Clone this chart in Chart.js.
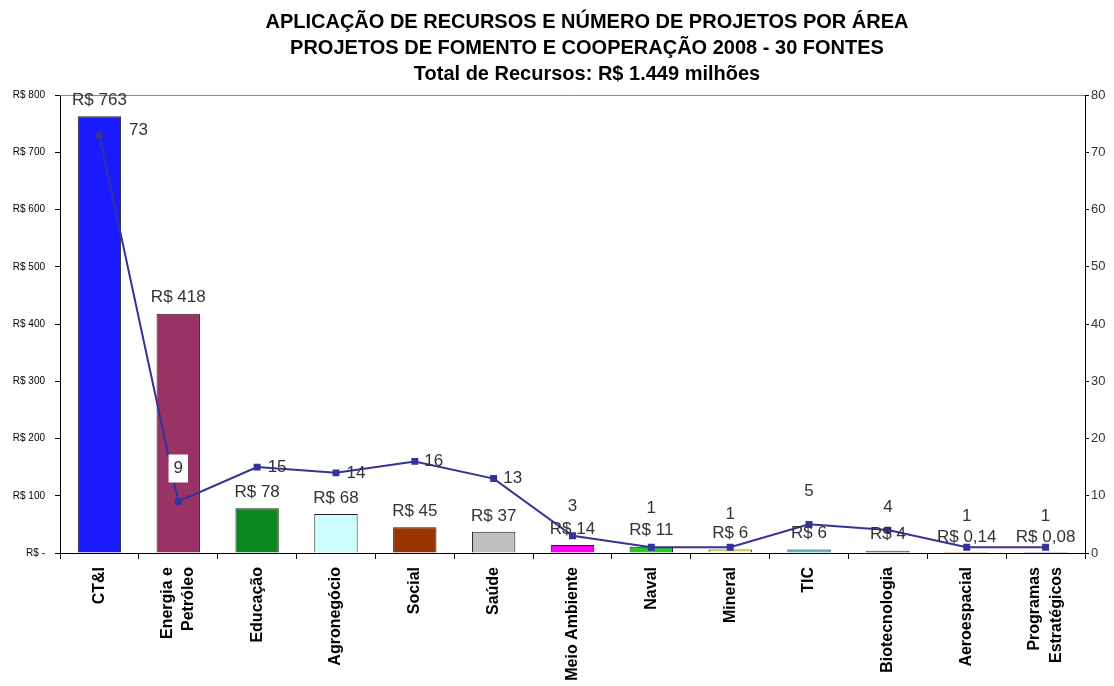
<!DOCTYPE html>
<html>
<head>
<meta charset="utf-8">
<script src="https://cdn.jsdelivr.net/npm/chart.js@4"></script>
<style>
  html, body { margin: 0; padding: 0; background: #fff; }
  #wrap { width: 1114px; height: 686px; }
</style>
</head>
<body>
<div id="wrap"><canvas id="chart" width="1114" height="686"></canvas></div>
<script>
const areas = ['CT&I', ['Energia e', 'Petróleo'], 'Educação', 'Agronegócio', 'Social', 'Saúde',
    'Meio Ambiente', 'Naval', 'Mineral', 'TIC', 'Biotecnologia', 'Aeroespacial', ['Programas', 'Estratégicos']];
const recursos = [763, 418, 78, 68, 45, 37, 14, 11, 6, 6, 4, 0.14, 0.08];
const projetos = [73, 9, 15, 14, 16, 13, 3, 1, 1, 5, 4, 1, 1];
const titleLines = [
    'APLICAÇÃO DE RECURSOS E NÚMERO DE PROJETOS POR ÁREA',
    'PROJETOS DE FOMENTO E COOPERAÇÃO 2008 - 30 FONTES',
    'Total de Recursos: R$ 1.449 milhões'
];

const barColors = ['#1a1aff', '#993366', '#0a8a1e', '#ccffff', '#993300', '#c0c0c0',
    '#ff00ff', '#22cc22', '#ffff66', '#33cccc', '#996633', '#ff9900', '#666699'];

// label offsets for the project counts (relative to the point)
const lineLabelOffsets = [[39, -5], [0, -33], [20, 0], [20, 0], [19, 0], [19, 0],
    [0, -30], [0, -39], [0, -33], [0, -33], [0, -23], [0, -31], [0, -31]];

const fmtReais = v => 'R$ ' + String(v).replace('.', ',');
const FONT = '"Liberation Sans", Arial, sans-serif';

// center two-line rotated category labels on their tick
const centerLabels = {
    id: 'centerLabels',
    beforeDraw(chart) {
        const scale = chart.scales.x;
        scale.getLabelItems(chart.chartArea).forEach(item => {
            if (Array.isArray(item.label) && !item._centered) {
                item.textOffset -= (item.label.length - 1) * item.font.lineHeight / 2;
                item._centered = true;
            }
        });
    }
};

const labelPlugin = {
    id: 'labels',
    afterDatasetsDraw(chart) {
        const ctx = chart.ctx;
        const area = chart.chartArea;
        ctx.save();
        // top frame line
        ctx.strokeStyle = '#888';
        ctx.lineWidth = 1;
        ctx.beginPath();
        ctx.moveTo(area.left, area.top + 0.5);
        ctx.lineTo(area.right, area.top + 0.5);
        ctx.stroke();

        ctx.font = '17px ' + FONT;
        ctx.textAlign = 'center';
        ctx.textBaseline = 'middle';
        ctx.fillStyle = '#333';
        chart.getDatasetMeta(0).data.forEach((bar, i) => {
            ctx.fillText(fmtReais(recursos[i]), bar.x, bar.y - 16);
        });
        chart.getDatasetMeta(1).data.forEach((pt, i) => {
            const [dx, dy] = lineLabelOffsets[i];
            const x = pt.x + dx, y = pt.y + dy;
            const txt = String(projetos[i]);
            if (i === 1) {
                const w = ctx.measureText(txt).width;
                ctx.fillStyle = '#fff';
                ctx.fillRect(x - w / 2 - 5, y - 14, w + 10, 28);
                ctx.fillStyle = '#333';
            }
            ctx.fillText(txt, x, y);
        });

        // title
        ctx.fillStyle = '#000';
        ctx.font = 'bold 20px ' + FONT;
        titleLines.forEach((t, i) => ctx.fillText(t, 587, 22 + i * 26));
        ctx.restore();
    }
};

const ctx = document.getElementById('chart').getContext('2d');
new Chart(ctx, {
    type: 'bar',
    data: {
        labels: areas,
        datasets: [{
            type: 'bar',
            data: recursos,
            backgroundColor: barColors,
            borderColor: '#222',
            borderWidth: 1,
            categoryPercentage: 1,
            barPercentage: 0.55,
            yAxisID: 'y',
            order: 2
        }, {
            type: 'line',
            data: projetos,
            borderColor: '#333399',
            backgroundColor: '#333399',
            borderWidth: 2,
            pointStyle: 'rect',
            pointRadius: 3.5,
            tension: 0,
            yAxisID: 'y1',
            order: 1
        }]
    },
    options: {
        responsive: false,
        animation: false,
        layout: {padding: {top: 95, left: 0, right: 0, bottom: 0}},
        plugins: {legend: {display: false}, tooltip: {enabled: false}, title: {display: false}},
        scales: {
            x: {
                offset: true,
                grid: {display: true, drawOnChartArea: false, offset: true, tickLength: 6, color: '#000'},
                border: {color: '#000'},
                ticks: {
                    maxRotation: 90, minRotation: 90, autoSkip: false, padding: 8,
                    color: '#000',
                    font: {family: FONT, size: 16, weight: 'bold', lineHeight: 1.35}
                },
                afterFit(s) { s.height = 133; }
            },
            y: {
                position: 'left',
                min: 0, max: 800,
                grid: {drawOnChartArea: false, tickLength: 5, color: '#000'},
                border: {color: '#000'},
                ticks: {
                    stepSize: 100, padding: 10, color: '#000',
                    font: {family: FONT, size: 10},
                    callback: v => v === 0 ? 'R$ -' : 'R$ ' + v
                },
                afterFit(s) { s.width = 60; }
            },
            y1: {
                position: 'right',
                min: 0, max: 80,
                grid: {drawOnChartArea: false, tickLength: 4, color: '#000'},
                border: {color: '#000'},
                ticks: {
                    stepSize: 10, padding: 2, color: '#333',
                    font: {family: FONT, size: 13}
                },
                afterFit(s) { s.width = 29; }
            }
        }
    },
    plugins: [centerLabels, labelPlugin]
});
</script>
</body>
</html>
